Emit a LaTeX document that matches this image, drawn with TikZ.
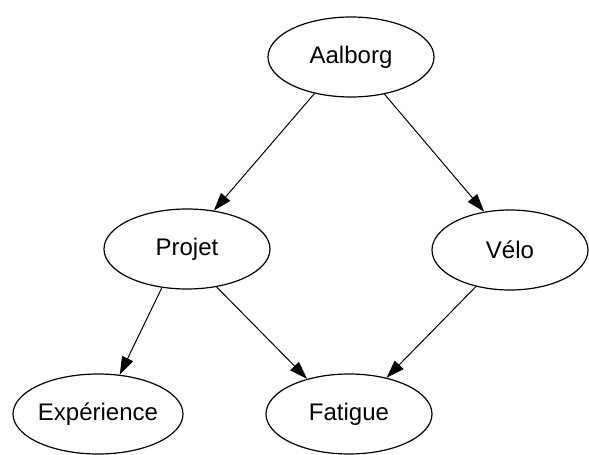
\documentclass[tikz,border=0pt]{standalone}
\usepackage{fontspec}
\setmainfont{Liberation Sans}
\usetikzlibrary{shapes.geometric,arrows.meta}
\begin{document}
\begin{tikzpicture}[x=1pt,y=-1pt,
  var/.style={ellipse,draw=black,line width=1.2pt,fill=white,inner sep=0pt,
    minimum width=166pt,minimum height=80pt,font=\fontsize{24}{28}\selectfont},
  link/.style={draw=black,line width=1pt,-{Triangle[length=18pt,width=12pt]}}]
  \fill[white] (0,0) rectangle (589,455);
  \useasboundingbox (0,0) rectangle (589,455);

  % variables of the network
  \node[var] (aal) at (351,57)  {Aalborg};
  \node[var] (pro) at (187,249) {Projet};
  \node[var,minimum width=156pt] (vel) at (510,250) {Vélo};
  \node[var,minimum width=170pt] (exp) at (98,414) {Expérience};
  \node[var] (fat) at (349,414) {Fatigue};

  % dependencies
  \draw[link] (aal.225) -- (pro.55);
  \draw[link] (aal.312) -- (vel.124);
  \draw[link] (pro.237) -- (exp.61);
  \draw[link] (pro.308) -- (fat.140);
  \draw[link] (vel.227) -- (fat.44);
\end{tikzpicture}
\end{document}
